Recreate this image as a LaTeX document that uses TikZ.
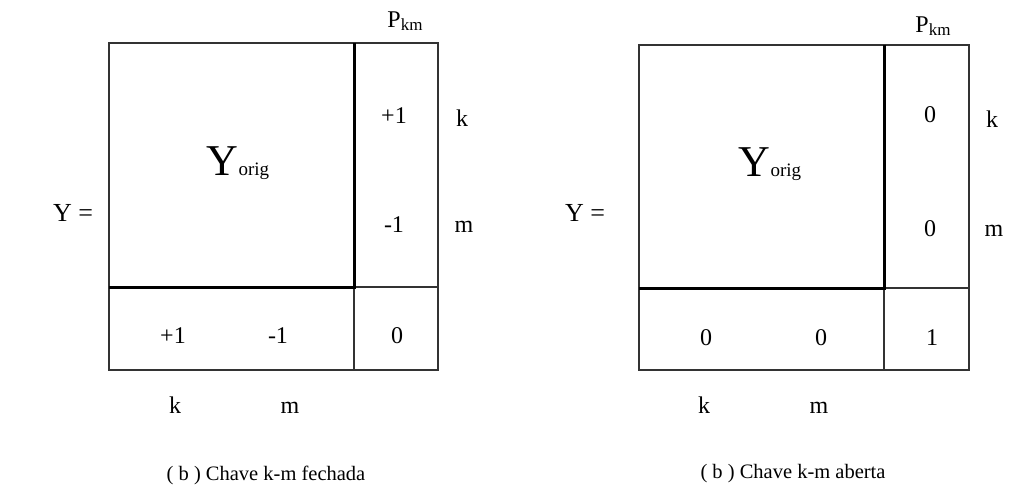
\documentclass[tikz,border=0pt]{standalone}
\usepackage{fontspec}
\setmainfont{Liberation Serif}
\usetikzlibrary{positioning}

\begin{document}
\begin{tikzpicture}[
    x=1pt, y=-1pt,
    thinline/.style={line width=1.1pt, black!80},
    thickline/.style={line width=3pt, black},
    entry/.style={font=\fontsize{24}{28}\selectfont, inner sep=0pt, anchor=base},
    subcap/.style={font=\fontsize{20.5}{24}\selectfont, inner sep=0pt, anchor=base}
  ]
  \useasboundingbox (0,0) rectangle (1010,487);

  % (b) chave fechada
  \draw[thinline] (109,43) rectangle (438,370);
  \draw[thinline] (354,287) -- (438,287);
  \draw[thinline] (354,287) -- (354,370);
  \draw[thickline] (354,43) -- (354,287) -- (109,287);
  \node[entry, font=\fontsize{26}{30}\selectfont] (yeqA) at (73,221) {Y =};
  \node[entry] (yorigA) at (238,175) {{\fontsize{44}{44}\selectfont Y}{\fontsize{19}{19}\selectfont orig}};
  \node[entry] (pkmA) at (405,28) {P\raisebox{-3pt}{\fontsize{17}{17}\selectfont km}};
  \node[entry] (colkA) at (394,123) {+1};
  \node[entry] (colmA) at (394,232) {-1};
  \node[entry] (rowkA) at (173,343) {+1};
  \node[entry] (rowmA) at (278,343) {-1};
  \node[entry] (diagA) at (397,343) {0};
  \node[entry] (kA) at (462,126) {k};
  \node[entry] (mA) at (464,232) {m};
  \node[entry] (kbA) at (175,413) {k};
  \node[entry] (mbA) at (290,413) {m};
  \node[subcap] (capA) at (266,480) {( b ) Chave k-m fechada};

  % (b) chave aberta
  \draw[thinline] (639,45) rectangle (969,370);
  \draw[thinline] (884,288) -- (969,288);
  \draw[thinline] (884,288) -- (884,370);
  \draw[thickline] (884,45) -- (884,288) -- (639,288);
  \node[entry, font=\fontsize{26}{30}\selectfont] (yeqB) at (585,221) {Y =};
  \node[entry] (yorigB) at (770,176) {{\fontsize{44}{44}\selectfont Y}{\fontsize{19}{19}\selectfont orig}};
  \node[entry] (pkmB) at (933,33) {P\raisebox{-3pt}{\fontsize{17}{17}\selectfont km}};
  \node[entry] (colkB) at (930,122) {0};
  \node[entry] (colmB) at (930,236) {0};
  \node[entry] (rowkB) at (706,345) {0};
  \node[entry] (rowmB) at (821,345) {0};
  \node[entry] (diagB) at (932,345) {1};
  \node[entry] (kB) at (992,127) {k};
  \node[entry] (mB) at (994,236) {m};
  \node[entry] (kbB) at (704,413) {k};
  \node[entry] (mbB) at (819,413) {m};
  \node[subcap] (capB) at (793,478) {( b ) Chave k-m aberta};
\end{tikzpicture}
\end{document}
